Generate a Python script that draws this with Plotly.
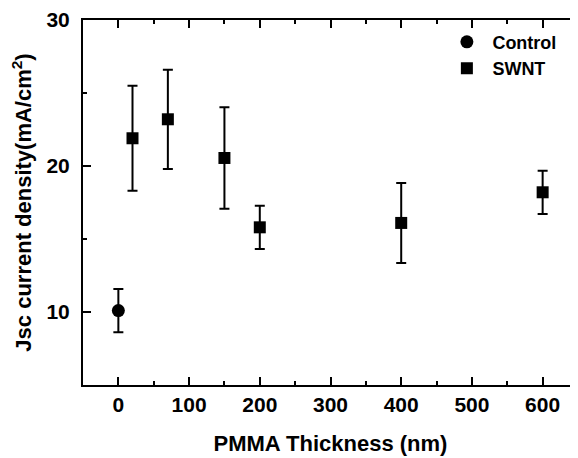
import plotly.graph_objects as go

# Data
control_x = [0]
control_y = [10.1]
control_err = [1.48]

swnt_x = [20, 70, 150, 200, 400, 600]
swnt_y = [21.9, 23.2, 20.55, 15.8, 16.1, 18.2]
swnt_err = [3.6, 3.4, 3.47, 1.48, 2.74, 1.48]

x_ticks = [0, 100, 200, 300, 400, 500, 600]
y_ticks = [10, 20, 30]

FONT = "Arial, Liberation Sans, sans-serif"

fig = go.Figure()
fig.add_trace(go.Scatter(
    x=control_x, y=control_y, mode="markers", name="Control",
    marker=dict(symbol="circle", size=13, color="black"),
    error_y=dict(type="data", array=control_err, visible=True,
                 color="black", thickness=2, width=5),
))
fig.add_trace(go.Scatter(
    x=swnt_x, y=swnt_y, mode="markers", name="SWNT",
    marker=dict(symbol="square", size=12, color="black"),
    error_y=dict(type="data", array=swnt_err, visible=True,
                 color="black", thickness=2, width=5),
))

fig.update_layout(
    width=570, height=450,
    margin=dict(l=75, r=0, t=12, b=73, autoexpand=False),
    paper_bgcolor="white", plot_bgcolor="white",
    font=dict(family=FONT, color="black"),
    showlegend=True,
    legend=dict(x=0.724, y=0.99, xanchor="left", yanchor="top",
                bgcolor="rgba(0,0,0,0)", itemwidth=41,
                font=dict(family=FONT, size=18, color="black", weight="bold"),
                tracegroupgap=0),
)

fig.update_xaxes(
    range=[-50, 650], tickvals=x_ticks, ticktext=[str(v) for v in x_ticks],
    ticks="inside", ticklen=8, tickwidth=2, tickcolor="black",
    minor=dict(dtick=50, tick0=0, ticks="inside", ticklen=4, tickwidth=2, tickcolor="black"),
    showline=True, linewidth=2, linecolor="black", mirror="ticks",
    showgrid=False, zeroline=False,
    tickfont=dict(family=FONT, size=21, color="black", weight="bold"),
    ticklabelstandoff=0,
    title=dict(text="PMMA Thickness (nm)", standoff=20,
               font=dict(family=FONT, size=22, color="black", weight="bold")),
)
fig.update_yaxes(
    range=[5, 30], tickvals=y_ticks, ticktext=[str(v) for v in y_ticks],
    ticks="inside", ticklen=8, tickwidth=2, tickcolor="black",
    minor=dict(dtick=5, tick0=0, ticks="inside", ticklen=4, tickwidth=2, tickcolor="black"),
    showline=True, linewidth=2, linecolor="black", mirror=False,
    showgrid=False, zeroline=False,
    tickfont=dict(family=FONT, size=21, color="black", weight="bold"),
    ticklabelstandoff=7,
    title=dict(text="Jsc current density(mA/cm<sup>2</sup>)", standoff=15,
               font=dict(family=FONT, size=22, color="black", weight="bold")),
)

fig.write_html("out.html")
